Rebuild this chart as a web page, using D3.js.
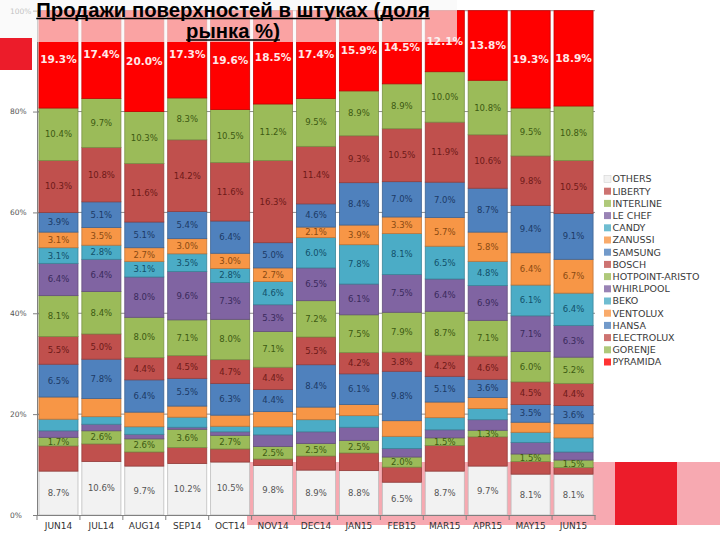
<!DOCTYPE html>
<html><head><meta charset="utf-8">
<script src="https://cdn.jsdelivr.net/npm/d3@7"></script>
<style>html,body{margin:0;padding:0;background:#fff;}svg{display:block;}</style>
</head><body>
<svg id="chart" width="720" height="540"></svg>
<script>
const categories = ["JUN14","JUL14","AUG14","SEP14","OCT14","NOV14","DEC14","JAN15","FEB15","MAR15","APR15","MAY15","JUN15"];
const seriesNames = ["OTHERS","LIBERTY","INTERLINE","LE CHEF","CANDY","ZANUSSI","SAMSUNG","BOSCH","HOTPOINT-ARISTO","WHIRLPOOL","BEKO","VENTOLUX","HANSA","ELECTROLUX","GORENJE","PYRAMIDA"];
const OTHERS     = [8.7,10.6,9.7,10.2,10.5,9.8,8.9,8.8,6.5,8.7,9.7,8.1,8.1];
const LIBERTY    = [5.0,3.5,2.8,3.2,2.6,1.3,2.8,3.5,3.0,5.1,5.8,2.5,1.3];
const INTERLINE  = [1.7,2.6,2.6,3.6,2.7,2.5,2.5,2.5,2.0,1.5,1.3,1.5,1.5];
const LE_CHEF    = [1.3,1.3,0.9,0.4,0.7,2.3,2.3,2.6,1.7,1.6,2.1,2.3,1.6];
const CANDY      = [2.3,1.5,1.5,2.0,1.1,1.6,2.4,2.3,2.4,2.4,2.2,2.0,2.8];
const ZANUSSI    = [4.4,3.6,2.9,2.2,2.2,3.0,2.5,2.2,3.1,3.1,2.2,2.0,2.8];
const SAMSUNG    = [6.5,7.8,6.4,5.5,6.3,4.4,8.4,6.1,9.8,5.1,3.6,3.5,3.6];
const BOSCH      = [5.5,5.0,4.4,4.5,4.7,4.4,5.5,4.2,3.8,4.2,4.6,4.5,4.4];
const HOTPOINT   = [8.1,8.4,8.0,7.1,8.0,7.1,7.2,7.5,7.9,8.7,7.1,6.0,5.2];
const WHIRLPOOL  = [6.4,6.4,8.0,9.6,7.3,5.3,6.5,6.1,7.5,6.4,6.9,7.1,6.3];
const BEKO       = [3.1,2.8,3.1,3.5,2.8,4.6,6.0,7.8,8.1,6.5,4.8,6.1,6.4];
const VENTOLUX   = [3.1,3.5,2.7,3.0,3.0,2.7,2.1,3.9,3.3,5.7,5.8,6.4,6.7];
const HANSA      = [3.9,5.1,5.1,5.4,6.4,5.0,4.6,8.4,7.0,7.0,8.7,9.4,9.1];
const ELECTROLUX = [10.3,10.8,11.6,14.2,11.6,16.3,11.4,9.3,10.5,11.9,10.6,9.8,10.5];
const GORENJE    = [10.4,9.7,10.3,8.3,10.5,11.2,9.5,8.9,8.9,10.0,10.8,9.5,10.8];
const PYRAMIDA   = [19.3,17.4,20.0,17.3,19.6,18.5,17.4,15.9,14.5,12.1,13.8,19.3,18.9];
const seriesValues = [OTHERS,LIBERTY,INTERLINE,LE_CHEF,CANDY,ZANUSSI,SAMSUNG,BOSCH,HOTPOINT,WHIRLPOOL,BEKO,VENTOLUX,HANSA,ELECTROLUX,GORENJE,PYRAMIDA];
const labeledSeries = ["OTHERS","INTERLINE","SAMSUNG","BOSCH","HOTPOINT-ARISTO","WHIRLPOOL","BEKO","VENTOLUX","HANSA","ELECTROLUX","GORENJE","PYRAMIDA"];
const yTicks = [0,20,40,60,80,100];
const titleLines = ["Продажи поверхностей в штуках (доля","рынка %)"];

const fills = ["#f2f2f2","#c0504d","#9bbb59","#8064a2","#4bacc6","#f79646","#4f81bd","#c0504d","#9bbb59","#8064a2","#4bacc6","#f79646","#4f81bd","#c0504d","#9bbb59","#ff0000"];
const labelFills = ["#555555","#6e1a18","#3d5a12","#3a2a5c","#12506a","#8a4a12","#1c3a66","#6e1a18","#3d5a12","#3a2a5c","#12506a","#8a4a12","#1c3a66","#6e1a18","#3d5a12","#ffe8e8"];

const table = categories.map((c,i)=>{
  const row = {cat:c};
  seriesNames.forEach((s,j)=>row[s]=seriesValues[j][i]);
  return row;
});
const stacked = d3.stack().keys(seriesNames)(table);

const svg = d3.select("#chart");
svg.append("rect").attr("width",720).attr("height",540).attr("fill","#fff");

const x = d3.scaleBand().domain(categories).range([37,595]).paddingInner(0.09).paddingOuter(0.045);
const y = d3.scaleLinear().domain([0,100]).range([515,10.7]);

// decorative bottom band
svg.append("rect").attr("x",247).attr("y",462).attr("width",473).attr("height",63).attr("fill","#f7a9b1");
svg.append("rect").attr("x",615).attr("y",462).attr("width",62).attr("height",63).attr("fill","#ec1c2a");

// gridlines
svg.append("g").selectAll("line").data(yTicks.filter(t=>t>0)).join("line")
  .attr("x1",37).attr("x2",595).attr("y1",d=>y(d)).attr("y2",d=>y(d))
  .attr("stroke","#8c8c8c").attr("stroke-width",1);

// bars
const layers = svg.append("g").selectAll("g").data(stacked).join("g")
  .attr("fill",(d,i)=>fills[i]);
layers.selectAll("rect").data(d=>d).join("rect")
  .attr("x",d=>x(d.data.cat))
  .attr("y",d=>y(d[1]))
  .attr("width",x.bandwidth())
  .attr("height",d=>y(d[0])-y(d[1]))
  .attr("stroke",function(){return d3.color(d3.select(this.parentNode).attr("fill")).darker(0.7);})
  .attr("stroke-width",0.8);

// value labels
const lbl = svg.append("g").attr("font-family","DejaVu Sans, sans-serif").attr("text-anchor","middle");
stacked.forEach((layer,i)=>{
  if(!labeledSeries.includes(layer.key)) return;
  const isTop = layer.key==="PYRAMIDA";
  lbl.selectAll(null).data(layer).join("text")
    .attr("x",d=>x(d.data.cat)+x.bandwidth()/2)
    .attr("y",d=>(y(d[0])+y(d[1]))/2)
    .attr("dy","0.35em")
    .attr("font-size",isTop?10.5:8.5)
    .attr("font-weight",isTop?"bold":"normal")
    .attr("fill",labelFills[i])
    .text(d=>d3.format(".1f")(d[1]-d[0])+"%");
});

// y axis
const yAxis = svg.append("g").attr("transform","translate(37,0)")
  .call(d3.axisLeft(y).tickValues(yTicks).tickFormat(d=>d+"%").tickSize(4).tickPadding(0));
yAxis.select(".domain").attr("stroke","#808080");
yAxis.selectAll(".tick line").attr("stroke","#808080").attr("x2",-4).attr("x1",2);
yAxis.selectAll(".tick text").attr("text-anchor","start").attr("x",-27).attr("font-family","DejaVu Sans, sans-serif").attr("font-size",7.5).attr("fill","#555");

// x axis
const xAxis = svg.append("g").attr("transform","translate(0,515)")
  .call(d3.axisBottom(x).tickSize(0).tickPadding(8));
xAxis.select(".domain").attr("stroke","#808080");
xAxis.selectAll(".tick text").attr("font-family","DejaVu Sans, sans-serif").attr("font-size",9).attr("fill","#333");
const gapHalf = (x.step()-x.bandwidth())/2;
const bounds = categories.map(c=>x(c)-gapHalf).concat([x(categories[categories.length-1])+x.bandwidth()+gapHalf]);
xAxis.selectAll("line.bt").data(bounds).join("line").attr("class","bt")
  .attr("x1",d=>d).attr("x2",d=>d).attr("y1",0).attr("y2",5).attr("stroke","#808080");

// legend
const leg = svg.append("g").attr("font-family","DejaVu Sans, sans-serif").attr("font-size",9.5).attr("fill","#3a3a3a");
seriesNames.forEach((s,i)=>{
  const g = leg.append("g").attr("transform",`translate(604,${179+i*12.2})`);
  g.append("rect").attr("x",0).attr("y",-3.5).attr("width",7).attr("height",7).attr("fill",fills[i]).attr("opacity",s==="OTHERS"?1:0.8)
    .attr("stroke",s==="OTHERS"?"#ccc":"none").attr("stroke-width",0.5);
  g.append("text").attr("x",8.5).attr("dy","0.36em").text(s);
});

// translucent title panel
svg.append("rect").attr("x",0).attr("y",0).attr("width",457).attr("height",42).attr("fill","#f8f8f8").attr("opacity",0.66);
svg.append("rect").attr("x",0).attr("y",38).attr("width",32).attr("height",32).attr("fill","#ec1c2a");

// title
const tg = svg.append("g").attr("font-family","Liberation Sans, Arial, sans-serif").attr("font-weight","bold").attr("font-size",20.3).attr("fill","#000").attr("text-anchor","middle");
titleLines.forEach((t,i)=>{
  const tx = tg.append("text").attr("x",233).attr("y",16.5+i*21.5).text(t);
  const w = tx.node().getComputedTextLength();
  tg.append("line").attr("x1",233-w/2).attr("x2",233+w/2).attr("y1",18.5+i*21.5).attr("y2",18.5+i*21.5).attr("stroke","#000").attr("stroke-width",1.5);
});
</script>
</body></html>
